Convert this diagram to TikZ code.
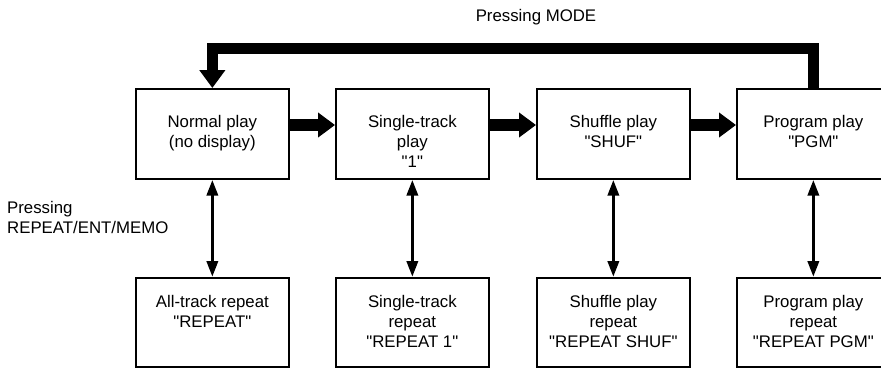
\documentclass[tikz,border=0pt]{standalone}
\usepackage{fontspec}
\setmainfont{Liberation Sans}[Ligatures=TeXOff]
\usetikzlibrary{arrows.meta}
\newcommand{\dq}{\symbol{34}}
\begin{document}
\begin{tikzpicture}[x=1pt,y=-1pt,
  box/.style={draw, line width=1.7pt, minimum width=153pt, minimum height=90pt, inner sep=0pt, anchor=north west},
  rbox/.style={box, minimum height=89pt},
  txt/.style={align=center, font=\fontsize{16.8}{20}\selectfont, inner sep=0pt, anchor=north},
  lbl/.style={font=\fontsize{16.8}{20}\selectfont, inner sep=0pt},
  bigarrow/.style={line width=12pt, -{Triangle[length=17pt,width=24pt]}},
  looparrow/.style={line width=11pt, line join=miter, -{Triangle[length=18pt,width=25pt]}},
  dblarrow/.style={line width=3.5pt, {Triangle[length=16pt,width=11pt]}-{Triangle[length=16pt,width=11pt]}}
]
\useasboundingbox (0,0) rectangle (881,368);
\clip (0,0) rectangle (881,368);

% top row
\node[box] (p1) at (135,88) {};
\node[box] (p2) at (335,88) {};
\node[box] (p3) at (536,88) {};
\node[box] (p4) at (736,88) {};
% bottom row
\node[rbox] (r1) at (135,277) {};
\node[rbox] (r2) at (335,277) {};
\node[rbox] (r3) at (536,277) {};
\node[rbox] (r4) at (736,277) {};

% texts
\node[txt] (t1) at ([yshift=-27pt]p1.north) {Normal play\\(no display)};
\node[txt] (t2) at ([yshift=-27pt]p2.north) {Single-track\\play\\\dq1\dq};
\node[txt] (t3) at ([yshift=-27pt]p3.north) {Shuffle play\\\dq SHUF\dq};
\node[txt] (t4) at ([yshift=-27pt]p4.north) {Program play\\\dq PGM\dq};
\node[txt] (u1) at ([yshift=-18pt]r1.north) {All-track repeat\\\dq REPEAT\dq};
\node[txt] (u2) at ([yshift=-18pt]r2.north) {Single-track\\repeat\\\dq REPEAT 1\dq};
\node[txt] (u3) at ([yshift=-18pt]r3.north) {Shuffle play\\repeat\\\dq REPEAT SHUF\dq};
\node[txt] (u4) at ([yshift=-18pt]r4.north) {Program play\\repeat\\\dq REPEAT PGM\dq};

% labels
\node[lbl, anchor=base] (mode) at (536,21) {Pressing MODE};
\node[lbl, align=left, anchor=north west] (rep) at (7,201) {Pressing\\REPEAT/ENT/MEMO};

% horizontal thick arrows
\coordinate (ay) at (0,125);
\draw[bigarrow] (p1.east |- ay) -- (p2.west |- ay);
\draw[bigarrow] (p2.east |- ay) -- (p3.west |- ay);
\draw[bigarrow] (p3.east |- ay) -- (p4.west |- ay);

% loop back
\coordinate (ly) at (0,48);
\draw[looparrow] (p4.north) -- (p4.north |- ly) -- (p1.north |- ly) -- (p1.north);

% vertical double arrows
\draw[dblarrow] (p1.south) -- (r1.north);
\draw[dblarrow] (p2.south) -- (r2.north);
\draw[dblarrow] (p3.south) -- (r3.north);
\draw[dblarrow] (p4.south) -- (r4.north);
\end{tikzpicture}
\end{document}
